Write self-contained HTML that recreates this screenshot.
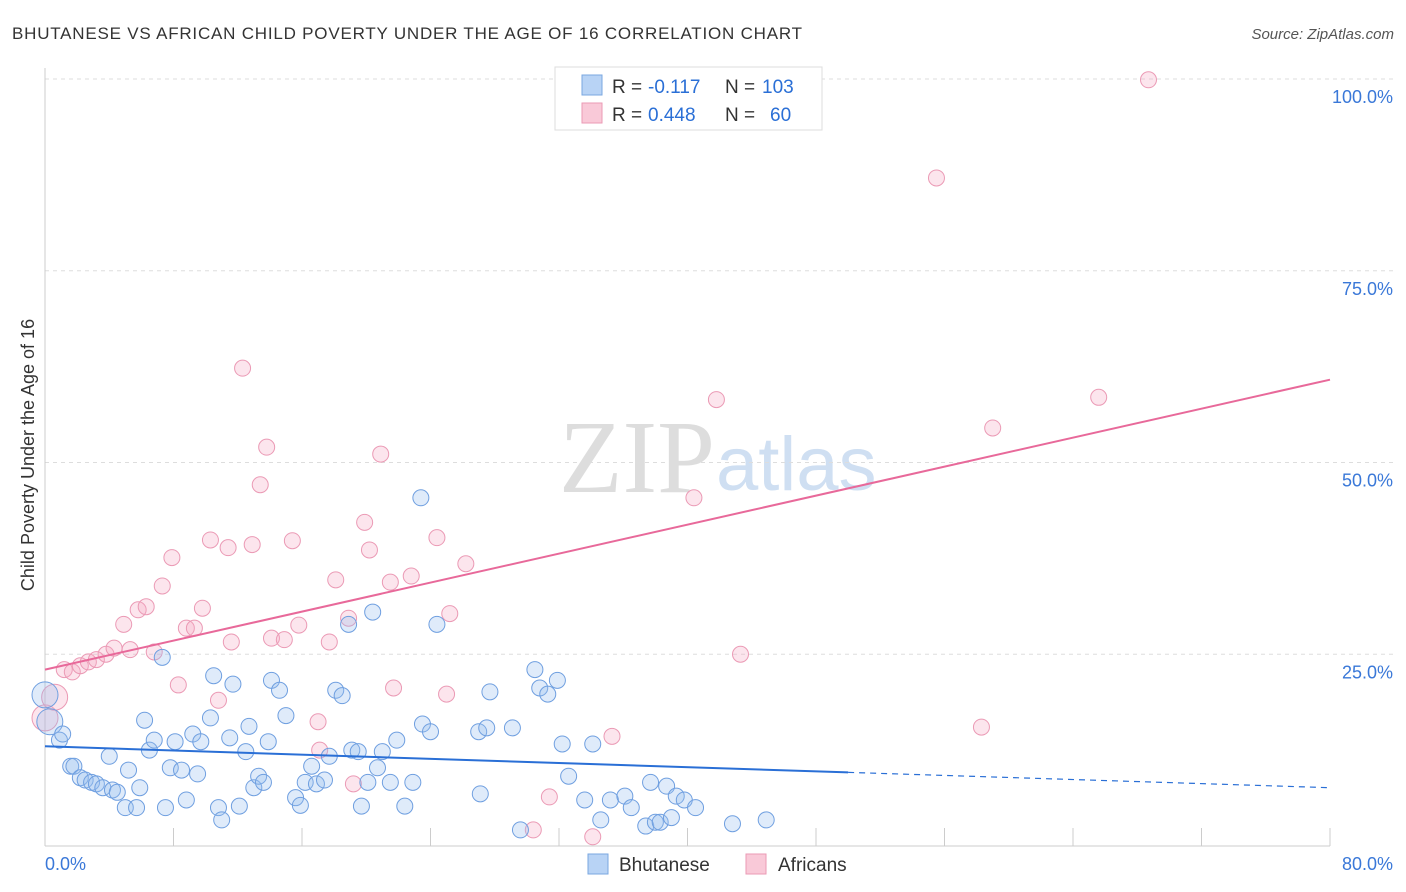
<!DOCTYPE html>
<html><head><meta charset="utf-8"><style>
body{margin:0;background:#fff;font-family:"Liberation Sans",sans-serif}
</style></head><body>
<svg id="c" width="1406" height="892" xmlns="http://www.w3.org/2000/svg" style="display:block">
<text x="12" y="39" font-size="17" fill="#333" textLength="790" lengthAdjust="spacing">BHUTANESE VS AFRICAN CHILD POVERTY UNDER THE AGE OF 16 CORRELATION CHART</text>
<text x="1394" y="39" font-size="15" fill="#555" font-style="italic" text-anchor="end">Source: ZipAtlas.com</text>
<text x="715" y="492" font-size="104" fill="#ddd" font-family="Liberation Serif" text-anchor="end">ZIP</text>
<text x="716" y="490" font-size="76" fill="#cfdff2">atlas</text>
<text transform="translate(34,455) rotate(-90)" font-size="18" fill="#333" text-anchor="middle">Child Poverty Under the Age of 16</text>
<g id="grid"></g><g id="pts"></g><g id="lines"></g>
<g>
<rect x="555" y="67" width="267" height="63" fill="#fff" stroke="#ddd"/>
<rect x="582" y="75" width="20" height="20" fill="#b8d3f5" stroke="#7aa7e0"/>
<rect x="582" y="103" width="20" height="20" fill="#f9c9d8" stroke="#eb9ab5"/>
<text x="612" y="93" font-size="19" fill="#333">R =</text>
<text x="648" y="93" font-size="19" fill="#2a6fd6">-0.117</text>
<text x="725" y="93" font-size="19" fill="#333">N =</text>
<text x="762" y="93" font-size="19" fill="#2a6fd6">103</text>
<text x="612" y="121" font-size="19" fill="#333">R =</text>
<text x="648" y="121" font-size="19" fill="#2a6fd6">0.448</text>
<text x="725" y="121" font-size="19" fill="#333">N =</text>
<text x="770" y="121" font-size="19" fill="#2a6fd6">60</text>
</g>
<g>
<rect x="588" y="854" width="20" height="20" fill="#b8d3f5" stroke="#7aa7e0"/>
<text x="619" y="871" font-size="19" fill="#333">Bhutanese</text>
<rect x="746" y="854" width="20" height="20" fill="#f9c9d8" stroke="#eb9ab5"/>
<text x="778" y="871" font-size="19" fill="#333">Africans</text>
</g>
</svg>
<script>
const yTicks=[25,50,75,100];
const yTickLabels=["25.0%","50.0%","75.0%","100.0%"];
const xTicks=[0,8,16,24,32,40,48,56,64,72,80];
const xEndLabels=["0.0%","80.0%"];
const blueX=[0.0,0.3,0.9,1.1,1.6,1.8,2.2,2.5,2.9,3.2,3.6,4.0,4.2,4.5,5.0,5.2,5.7,5.9,6.2,6.5,6.8,7.3,7.5,7.8,8.1,8.5,8.8,9.2,9.5,9.7,10.3,10.5,10.8,11.0,11.5,11.7,12.1,12.5,12.7,13.0,13.3,13.6,13.9,14.1,14.6,15.0,15.6,15.9,16.2,16.6,16.9,17.4,17.7,18.1,18.5,18.9,19.1,19.5,19.7,20.1,20.4,20.7,21.0,21.5,21.9,22.4,22.9,23.4,23.5,24.0,24.4,27.0,27.1,27.5,27.7,29.1,29.6,30.5,30.8,31.3,31.9,32.2,32.6,33.6,34.1,34.6,35.2,36.1,36.5,37.4,37.7,38.0,38.3,38.7,39.0,39.3,39.8,40.5,42.8,44.9];
const blueY=[19.7,16.2,13.8,14.6,10.4,10.4,8.9,8.6,8.3,8.1,7.6,11.7,7.3,7.0,5.0,9.9,5.0,7.6,16.4,12.5,13.8,24.6,5.0,10.2,13.6,9.9,6.0,14.6,9.4,13.6,16.7,22.2,5.0,3.4,14.1,21.1,5.2,12.3,15.6,7.6,9.1,8.3,13.6,21.6,20.3,17.0,6.3,5.3,8.3,10.4,8.1,8.6,11.7,20.3,19.6,28.9,12.5,12.3,5.2,8.3,30.5,10.2,12.3,8.3,13.8,5.2,8.3,45.4,15.9,14.9,28.9,14.9,6.8,15.4,20.1,15.4,2.1,23.0,20.6,19.8,21.6,13.3,9.1,6.0,13.3,3.4,6.0,6.5,5.0,2.6,8.3,3.1,3.1,7.8,3.7,6.5,6.0,5.0,2.9,3.4];
const pinkX=[0.0,0.6,1.2,1.7,2.2,2.7,3.2,3.8,4.3,4.9,5.3,5.8,6.3,6.8,7.3,7.9,8.3,8.8,9.3,9.8,10.3,10.8,11.4,11.6,12.3,12.9,13.4,13.8,14.1,14.9,15.4,15.8,17.0,17.1,17.7,18.1,18.9,19.2,19.9,20.2,20.9,21.5,21.7,22.8,24.4,25.0,25.2,26.2,30.4,31.4,34.1,35.3,40.4,41.8,43.3,55.5,58.3,59.0,65.6,68.7];
const pinkY=[16.7,19.4,23.0,22.7,23.5,24.0,24.3,25.0,25.8,28.9,25.6,30.8,31.2,25.3,33.9,37.6,21.0,28.4,28.4,31.0,39.9,19.0,38.9,26.6,62.3,39.3,47.1,52.0,27.1,26.9,39.8,28.8,16.2,12.5,26.6,34.7,29.7,8.1,42.2,38.6,51.1,34.4,20.6,35.2,40.2,19.8,30.3,36.8,2.1,6.4,1.2,14.3,45.4,58.2,25.0,87.1,15.5,54.5,58.5,99.9];
const blueTrendX=[0,50,80];
const blueTrendY=[13.0,9.6,7.6];
const pinkTrendX=[0,80];
const pinkTrendY=[23.0,60.8];
const NS="http://www.w3.org/2000/svg";
const xs=v=>45+v*(1285/80);
const ys=v=>846-v*7.67;
function mk(t,a,p){const e=document.createElementNS(NS,t);for(const k in a)e.setAttribute(k,a[k]);p.appendChild(e);return e;}
const grid=document.getElementById('grid');
yTicks.forEach((t,i)=>{
 const l=mk('line',{x1:45,x2:1394,y1:ys(t),y2:ys(t),stroke:'#ddd','stroke-dasharray':'4,4'},grid);
 
 
 const tx=mk('text',{x:1393,y:ys(t)+24,'font-size':18,fill:'#3a78d8','text-anchor':'end'},grid);
 tx.textContent=yTickLabels[i];
 
 
});
const ax=mk('line',{x1:45,x2:1330,y1:846,y2:846,stroke:'#ccc'},grid);


const ay=mk('line',{x1:45,x2:45,y1:68,y2:846,stroke:'#ccc'},grid);


xTicks.forEach(t=>{
 const l=mk('line',{x1:xs(t),x2:xs(t),y1:828,y2:846,stroke:'#ccc'},grid);
 
 
});
[[0,'start'],[80,'end']].forEach((d,i)=>{
 const tx=mk('text',{x:i?1393:45,y:870,'font-size':18,fill:'#3a78d8','text-anchor':d[1]},grid);
 tx.textContent=xEndLabels[i];
 
 
});
const pts=document.getElementById('pts');
pinkX.forEach((x,i)=>{
 const c=mk('circle',{cx:xs(x),cy:ys(pinkY[i]),r:i<2?13:8,fill:'rgba(245,170,195,0.3)',stroke:'#eb9ab5','stroke-width':1},pts);
 
 
});
blueX.forEach((x,i)=>{
 const c=mk('circle',{cx:xs(x),cy:ys(blueY[i]),r:i<2?13:8,fill:'rgba(150,190,240,0.3)',stroke:'#6f9fe0','stroke-width':1},pts);
 
 
});
const lines=document.getElementById('lines');
const b1=mk('line',{x1:xs(blueTrendX[0]),y1:ys(blueTrendY[0]),x2:xs(blueTrendX[1]),y2:ys(blueTrendY[1]),stroke:'#2a6fd6','stroke-width':2},lines);


const b2=mk('line',{x1:xs(blueTrendX[1]),y1:ys(blueTrendY[1]),x2:xs(blueTrendX[2]),y2:ys(blueTrendY[2]),stroke:'#2a6fd6','stroke-width':1.2,'stroke-dasharray':'6,5'},lines);


const p1=mk('line',{x1:xs(pinkTrendX[0]),y1:ys(pinkTrendY[0]),x2:xs(pinkTrendX[1]),y2:ys(pinkTrendY[1]),stroke:'#e8699a','stroke-width':2},lines);


</script>
</body></html>
